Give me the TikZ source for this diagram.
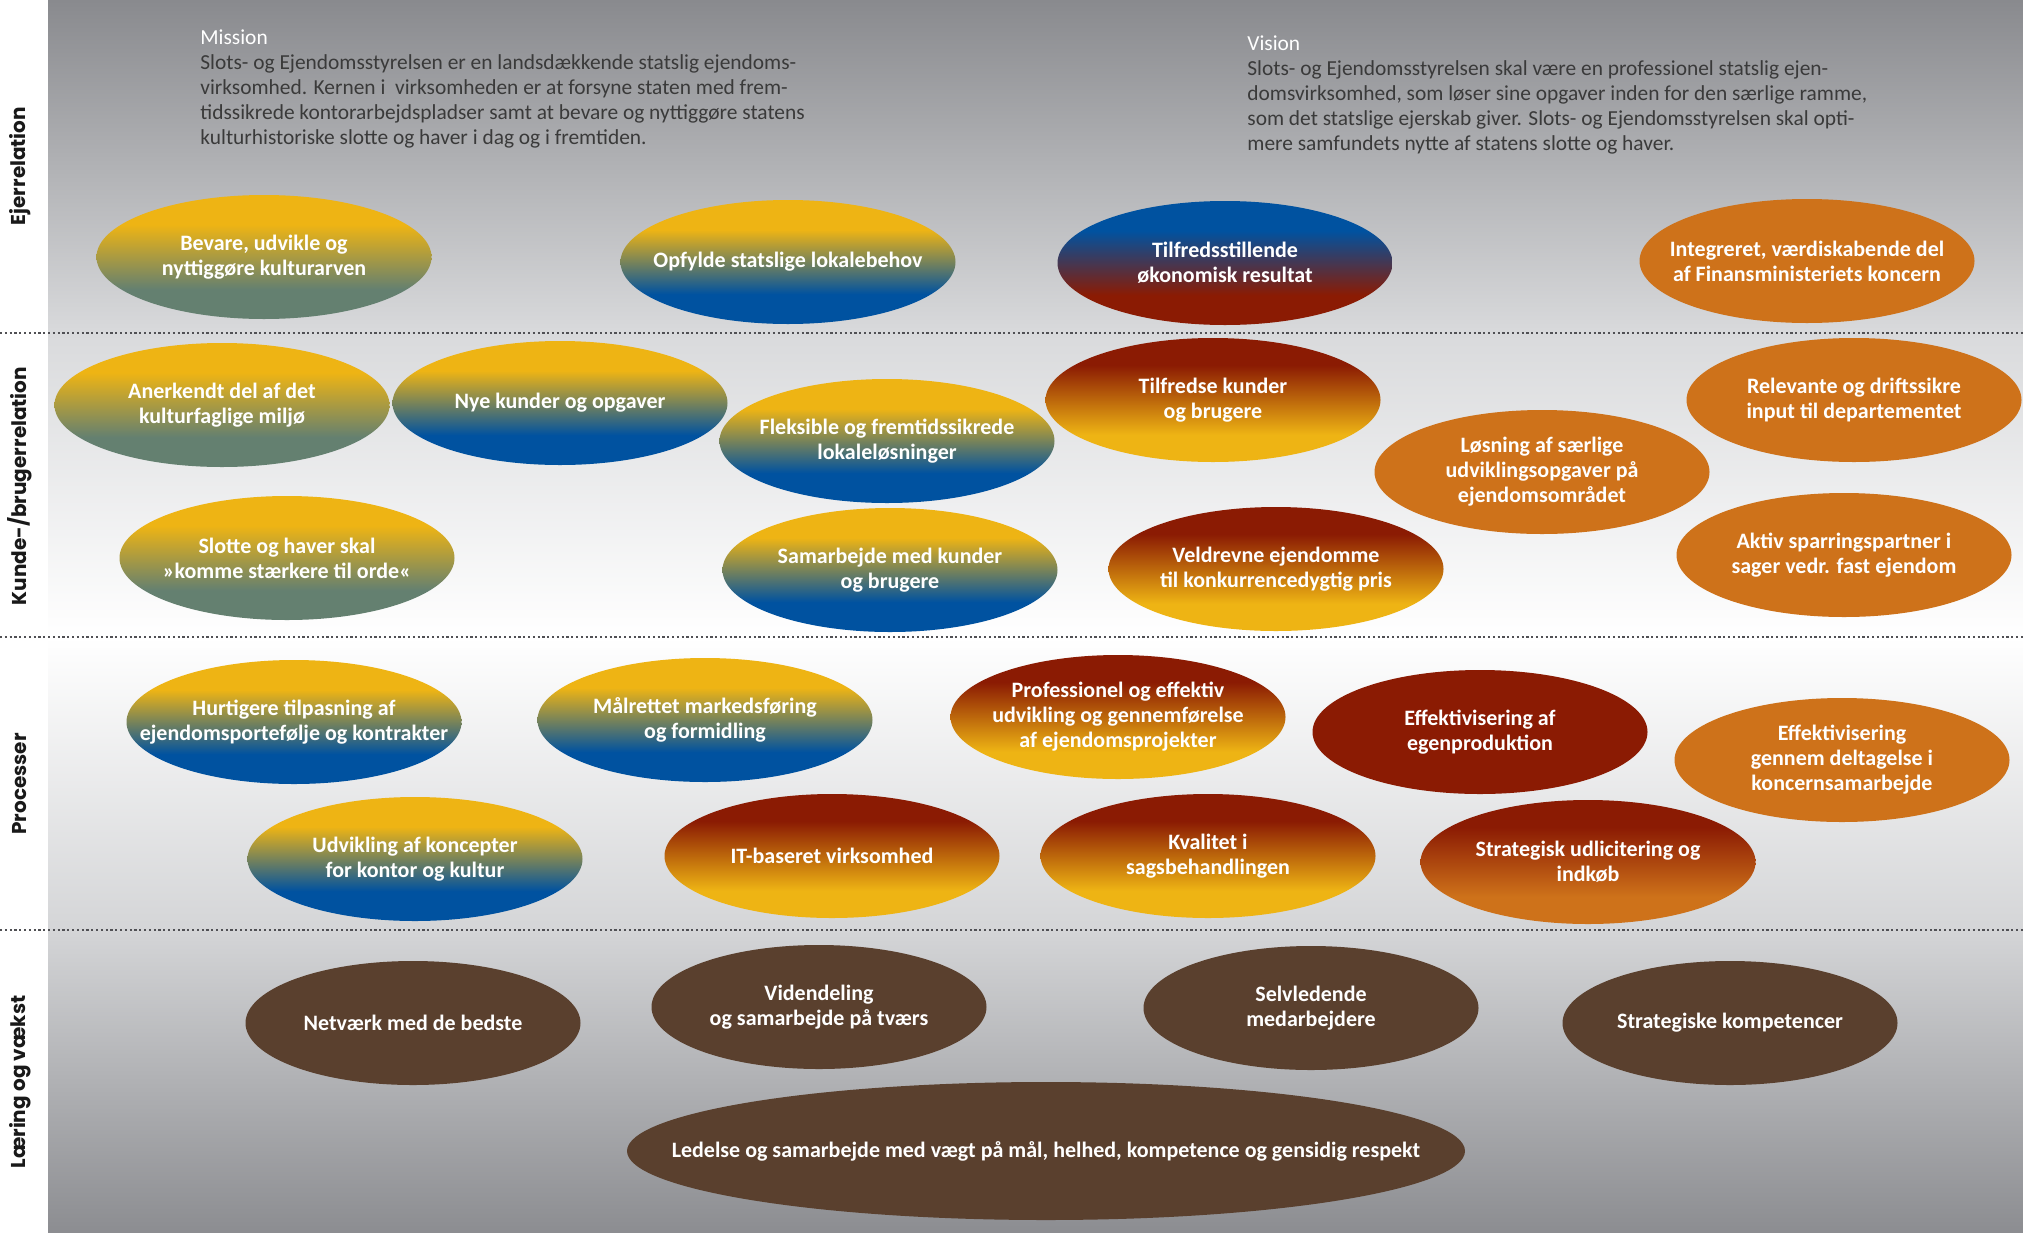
\documentclass[tikz,border=0pt]{standalone}
\usepackage{fontspec}
\setmainfont{Carlito}
\newfontfamily\bandfont{Poppins}
\usepackage{xcolor}
\definecolor{GoalYellow}{RGB}{238,180,20}
\definecolor{GoalBlue}{RGB}{0,82,160}
\definecolor{GoalGreen}{RGB}{100,128,112}
\definecolor{GoalRed}{RGB}{139,27,3}
\definecolor{GoalOrange}{RGB}{206,114,26}
\definecolor{GoalBrown}{RGB}{90,64,46}
\definecolor{BgDark}{RGB}{137,138,142}
\definecolor{BgLight}{RGB}{217,218,220}
\definecolor{BgLow}{RGB}{212,213,215}
\definecolor{BgBottom}{RGB}{140,141,145}
\definecolor{DividerGray}{RGB}{80,80,84}
\definecolor{IntroGray}{RGB}{58,58,58}
\definecolor{BandText}{RGB}{25,25,25}
\usepackage{tikz}
\usetikzlibrary{shapes.geometric}

% two-colour fills for the goal ellipses (top colour first in the name)
\pgfdeclareverticalshading{yellowgreen}{100bp}{color(0bp)=(GoalGreen); color(37bp)=(GoalGreen); color(63bp)=(GoalYellow); color(100bp)=(GoalYellow)}
\pgfdeclareverticalshading{yellowblue}{100bp}{color(0bp)=(GoalBlue); color(37bp)=(GoalBlue); color(63bp)=(GoalYellow); color(100bp)=(GoalYellow)}
\pgfdeclareverticalshading{bluered}{100bp}{color(0bp)=(GoalRed); color(37bp)=(GoalRed); color(63bp)=(GoalBlue); color(100bp)=(GoalBlue)}
\pgfdeclareverticalshading{redyellow}{100bp}{color(0bp)=(GoalYellow); color(36bp)=(GoalYellow); color(64bp)=(GoalRed); color(100bp)=(GoalRed)}
\pgfdeclareverticalshading{redorange}{100bp}{color(0bp)=(GoalOrange); color(36bp)=(GoalOrange); color(64bp)=(GoalRed); color(100bp)=(GoalRed)}

\tikzset{
  % Goal ellipse (negative sep keeps the size fixed whatever the text)
  goal/.style={
    ellipse, inner xsep=-30pt, inner ysep=-12pt,
    minimum width=167.5pt, minimum height=62pt,
    align=center, text=white,
    font=\fontsize{11}{12.5}\selectfont\bfseries
  },
  % Colour variants
  goal yellow green/.style={goal, shading=yellowgreen},
  goal yellow blue/.style={goal, shading=yellowblue},
  goal blue red/.style={goal, shading=bluered},
  goal red yellow/.style={goal, shading=redyellow},
  goal red orange/.style={goal, shading=redorange},
  goal orange/.style={goal, fill=GoalOrange},
  goal red/.style={goal, fill=GoalRed},
  goal brown/.style={goal, fill=GoalBrown},
  % Perspective title, turned up the left edge
  band/.style={
    rotate=90, text=BandText,
    font=\bandfont\bfseries\fontsize{10}{12}\selectfont
  },
  % Mission / vision paragraphs
  intro/.style={
    anchor=north west, align=left, inner sep=0pt,
    text=IntroGray, font=\fontsize{10.7}{12.5}\selectfont
  },
  % Dotted line between perspectives
  divider/.style={draw=DividerGray, line width=1.3pt, dash pattern=on 1.1pt off 1.3pt},
}

\begin{document}
\begin{tikzpicture}[x=0.5pt, y=-0.5pt]

  \useasboundingbox (0,0) rectangle (2023,1232);

  %% Background bands
  \fill[white] (0,0) rectangle (2023,1232);
  \shade[top color=BgDark, bottom color=BgLight] (48,0) rectangle (2023,334);
  \shade[top color=BgLight, middle color=white, bottom color=white] (48,333) rectangle (2023,638);
  \shade[top color=white, bottom color=BgLow] (48,637) rectangle (2023,931);
  \shade[top color=BgLow, bottom color=BgBottom] (48,930) rectangle (2023,1232);

  \draw[divider] (0,333) -- (2023,333);
  \draw[divider] (0,637) -- (2023,637);
  \draw[divider] (0,930) -- (2023,930);

  %% Perspective titles
  \node[band] (ejer)    at (20,166)  {Ejerrelation};
  \node[band] (kunde)   at (20,486)  {Kunde-/brugerrelation};
  \node[band] (proces)  at (20,784)  {Processer};
  \node[band] (laering) at (20,1082) {Læring og vækst};

  %% Mission and vision
  \node[intro] (mission) at (200,29)
    {\textcolor{white}{Mission}\\
     Slots- og Ejendomsstyrelsen er en landsdækkende statslig ejendoms-\\
     virksomhed. Kernen i\ \ virksomheden er at forsyne staten med frem-\\
     tidssikrede kontorarbejdspladser samt at bevare og nyttiggøre statens\\
     kulturhistoriske slotte og haver i dag og i fremtiden.};

  \node[intro] (vision) at (1247,35)
    {\textcolor{white}{Vision}\\
     Slots- og Ejendomsstyrelsen skal være en professionel statslig ejen-\\
     domsvirksomhed, som løser sine opgaver inden for den særlige ramme,\\
     som det statslige ejerskab giver. Slots- og Ejendomsstyrelsen skal opti-\\
     mere samfundets nytte af statens slotte og haver.};

  %% Ejerrelation
  \node[goal yellow green] (bevare)     at (264,257)  {Bevare, udvikle og\\nyttiggøre kulturarven};
  \node[goal yellow blue]  (opfylde)    at (788,262)  {Opfylde statslige lokalebehov};
  \node[goal blue red]     (oekonomi)   at (1225,263) {Tilfredsstillende\\økonomisk resultat};
  \node[goal orange]       (integreret) at (1807,261) {Integreret, værdiskabende del\\af Finansministeriets koncern};

  %% Kunde-/brugerrelation
  \node[goal yellow green] (anerkendt)  at (222,405)  {Anerkendt del af det\\kulturfaglige miljø};
  \node[goal yellow blue]  (nyekunder)  at (560,403)  {Nye kunder og opgaver};
  \node[goal yellow blue]  (fleksible)  at (887,441)  {Fleksible og fremtidssikrede\\lokaleløsninger};
  \node[goal red yellow]   (tilfredse)  at (1213,400) {Tilfredse kunder\\og brugere};
  \node[goal orange]       (relevante)  at (1854,400) {Relevante og driftssikre\\input til departementet};
  \node[goal orange]       (loesning)   at (1542,472) {Løsning af særlige\\udviklingsopgaver på\\ejendomsområdet};
  \node[goal yellow green] (slotte)     at (287,558)  {Slotte og haver skal\\»komme stærkere til orde«};
  \node[goal yellow blue]  (samarbejde) at (890,570)  {Samarbejde med kunder\\og brugere};
  \node[goal red yellow]   (veldrevne)  at (1276,569) {Veldrevne ejendomme\\til konkurrencedygtig pris};
  \node[goal orange]       (aktiv)      at (1844,555) {Aktiv sparringspartner i\\sager vedr. fast ejendom};

  %% Processer
  \node[goal yellow blue]  (hurtigere)    at (294,722)  {Hurtigere tilpasning af\\ejendomsportefølje og kontrakter};
  \node[goal yellow blue]  (maalrettet)   at (705,720)  {Målrettet markedsføring\\og formidling};
  \node[goal red yellow]   (professionel) at (1118,717) {Professionel og effektiv\\udvikling og gennemførelse\\af ejendomsprojekter};
  \node[goal red]          (egenprod)     at (1480,732) {Effektivisering af\\egenproduktion};
  \node[goal orange]       (koncern)      at (1842,760) {Effektivisering\\gennem deltagelse i\\koncernsamarbejde};
  \node[goal yellow blue]  (koncepter)    at (415,859)  {Udvikling af koncepter\\for kontor og kultur};
  \node[goal red yellow]   (itbaseret)    at (832,856)  {IT-baseret virksomhed};
  \node[goal red yellow]   (kvalitet)     at (1208,856) {Kvalitet i\\sagsbehandlingen};
  \node[goal red orange]   (udlicitering) at (1588,862) {Strategisk udlicitering og\\indkøb};

  %% Læring og vækst
  \node[goal brown] (netvaerk)    at (413,1023)  {Netværk med de bedste};
  \node[goal brown] (videndeling) at (819,1007)  {Videndeling\\og samarbejde på tværs};
  \node[goal brown] (selvledende) at (1311,1008) {Selvledende\\medarbejdere};
  \node[goal brown] (kompetencer) at (1730,1023) {Strategiske kompetencer};
  \node[goal brown, inner xsep=-60pt, minimum width=419pt, minimum height=69pt]
    (ledelse) at (1046,1151) {Ledelse og samarbejde med vægt på mål, helhed, kompetence og gensidig respekt};

\end{tikzpicture}
\end{document}
